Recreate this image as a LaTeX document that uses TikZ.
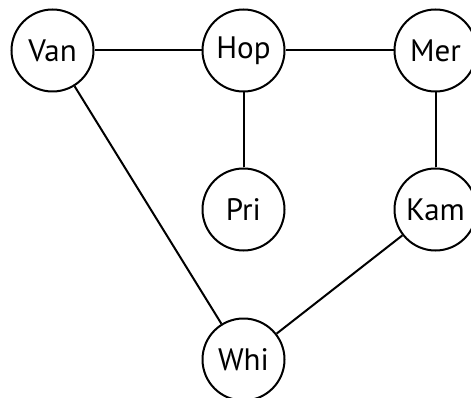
\documentclass[tikz,border=0pt]{standalone}
\usepackage{fontspec}
\setmainfont{PT Sans}
\begin{document}
\begin{tikzpicture}[x=1pt,y=-1pt,
  city/.style={circle, draw, line width=2pt, minimum size=82pt, inner sep=0pt, font=\fontsize{31}{35}\selectfont},
  road/.style={line width=2pt}]
\useasboundingbox (0,0) rectangle (471,398);
\node[city] (van) at (52.5,50.5) {Van};
\node[city] (hop) at (243.5,50.5) {Hop};
\node[city] (mer) at (435.5,50.5) {Mer};
\node[city] (pri) at (243.5,209.5) {Pri};
\node[city] (kam) at (435.5,209.5) {Kam};
\node[city] (whi) at (243.5,359.5) {Whi};
\draw[road] (van) -- (hop);
\draw[road] (hop) -- (mer);
\draw[road] (hop) -- (pri);
\draw[road] (mer) -- (kam);
\draw[road] (van) -- (whi);
\draw[road] (kam) -- (whi);
\end{tikzpicture}
\end{document}
